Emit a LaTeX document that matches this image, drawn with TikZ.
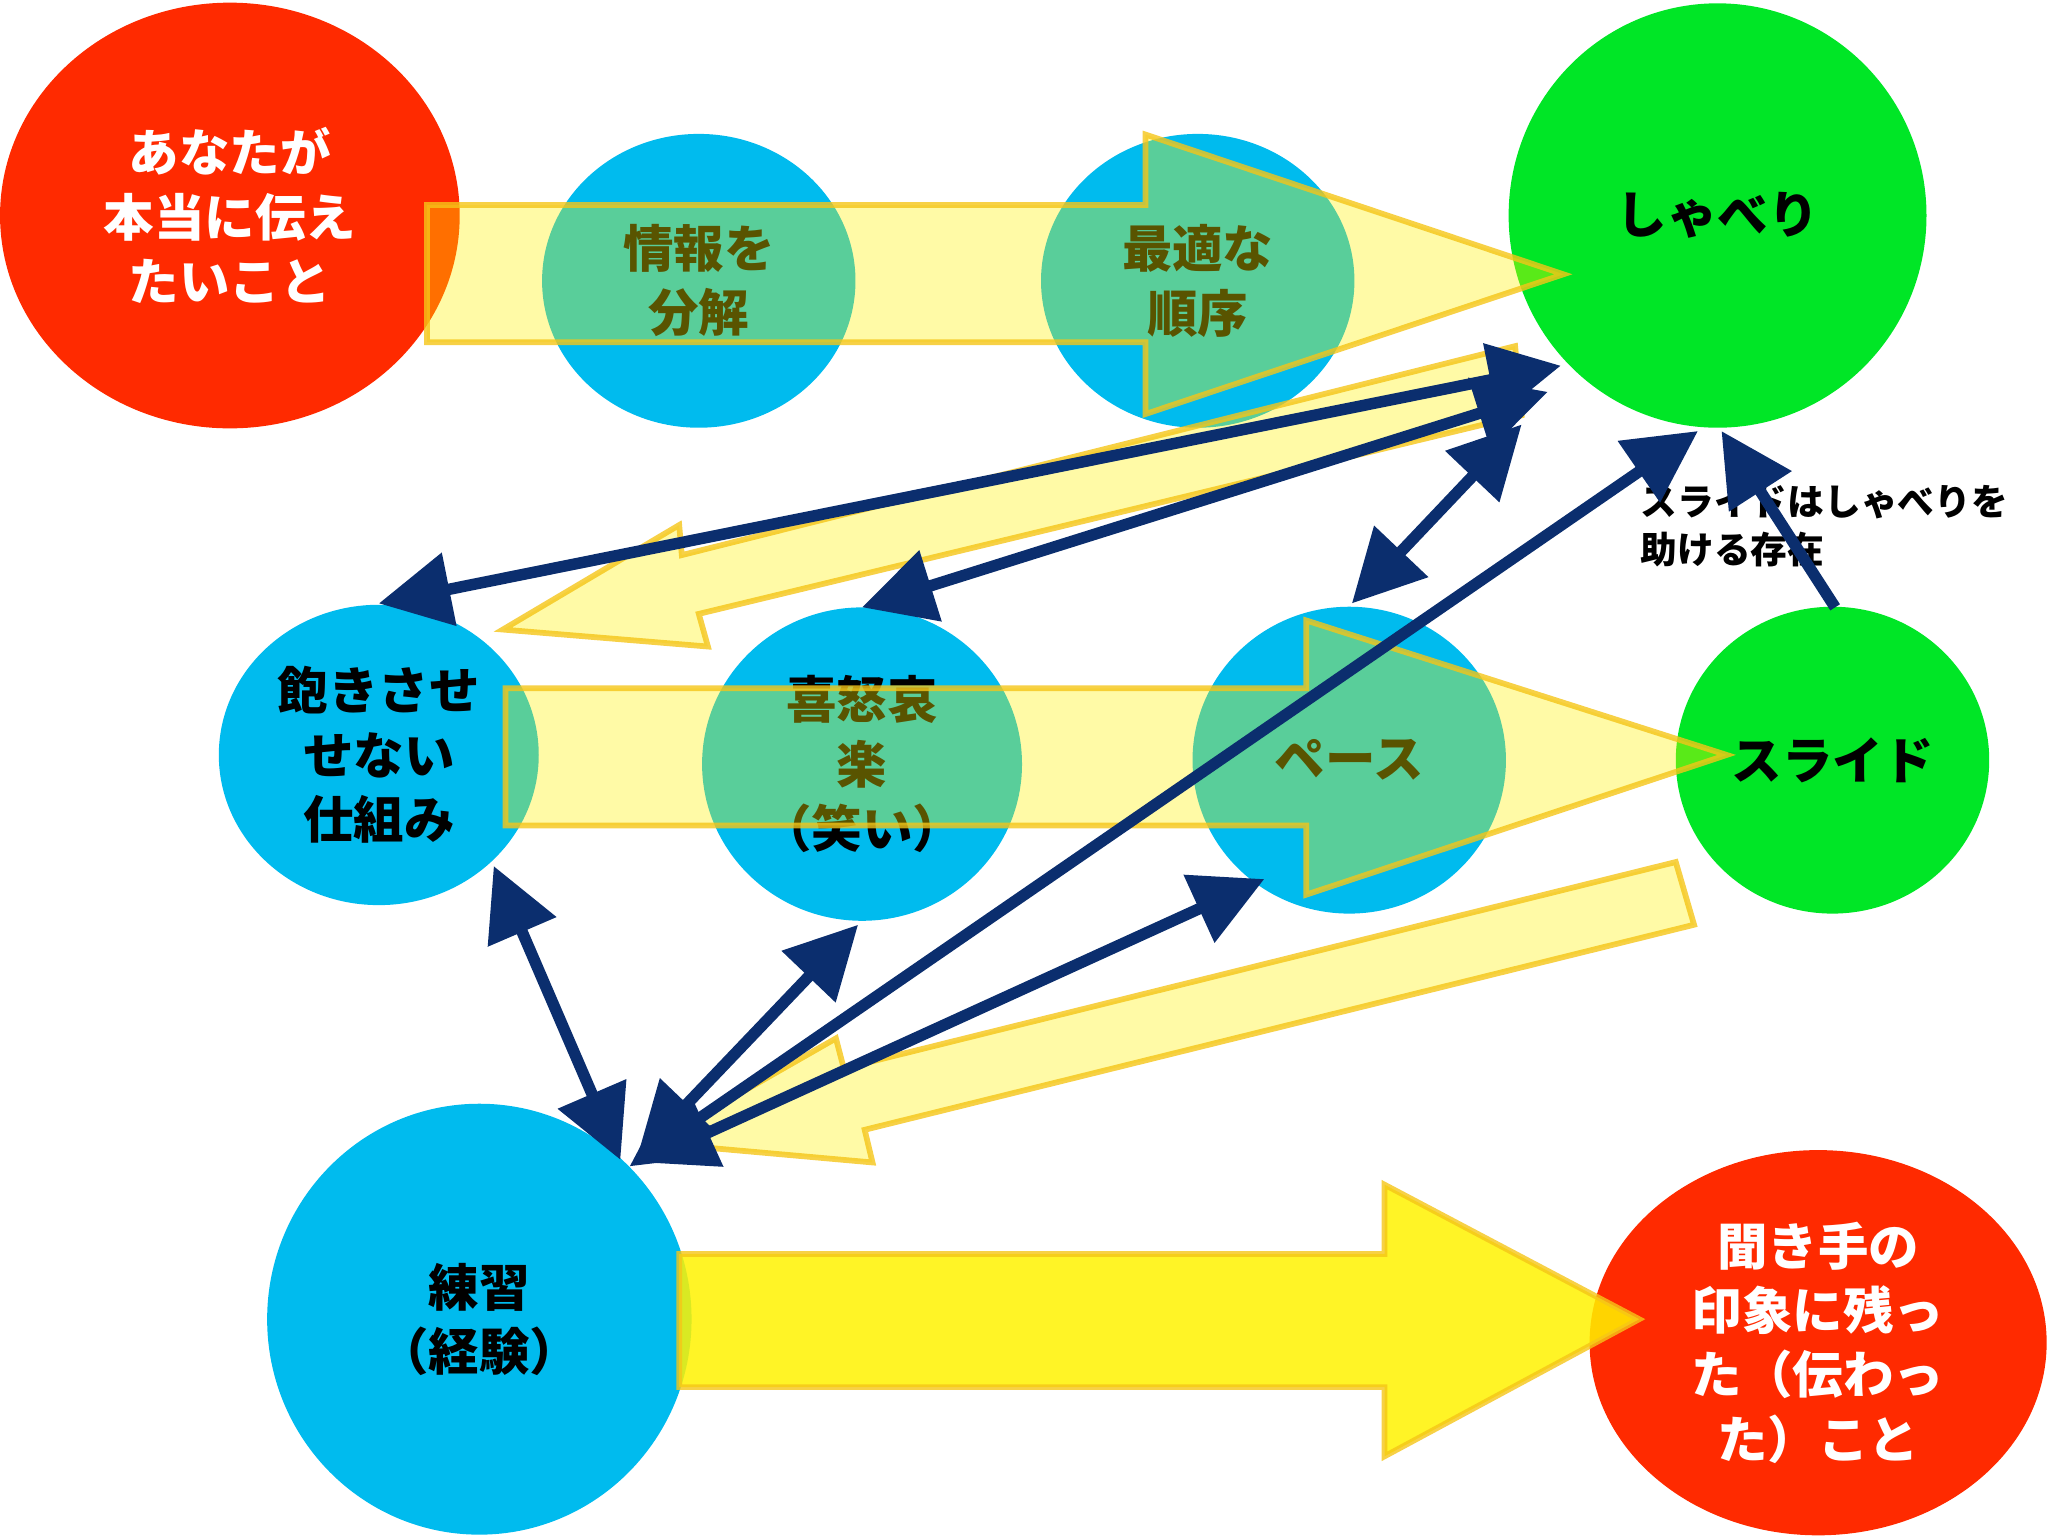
\documentclass[tikz,border=0pt]{standalone}
\usepackage{fontspec}
\setmainfont{Noto Sans CJK JP}
\usetikzlibrary{shapes.geometric,arrows.meta}
\definecolor{cred}{HTML}{FF2A00}
\definecolor{cblue}{HTML}{00BBEE}
\definecolor{cgreen}{HTML}{00E626}
\definecolor{navy}{HTML}{0B2E6E}
\definecolor{yel}{HTML}{FFF200}
\definecolor{yedge}{HTML}{F5C518}
\tikzset{
  circ/.style={ellipse,inner sep=0pt,align=center,font=\fontsize{22}{28}\selectfont\bfseries},
  yarrow/.style={fill=yel,fill opacity=0.35,draw=yedge,line width=2.5pt,draw opacity=0.8},
  barrow/.style={draw=navy,line width=5pt,{Triangle[length=1.1cm,width=1.1cm]}-{Triangle[length=1.1cm,width=1.1cm]}},
  sarrow/.style={draw=navy,line width=5pt,-{Triangle[length=1.1cm,width=1.1cm]}}
}
\begin{document}
\begin{tikzpicture}[x=0.02cm,y=-0.02cm]
\useasboundingbox (0,0) rectangle (1568,1176);
\node[circ,fill=cred,minimum width=352\pgflinewidth*0+7.04cm,minimum height=6.52cm,text=white] (a) at (176,165) {あなたが\\本当に伝え\\たいこと};
\node[circ,fill=cblue,minimum width=4.8cm,minimum height=4.5cm] (b) at (535,215) {情報を\\分解};
\node[circ,fill=cblue,minimum width=4.8cm,minimum height=4.5cm] (c) at (917,215) {最適な\\順序};
\node[circ,fill=cgreen,minimum width=6.4cm,minimum height=6.5cm] (d) at (1315,165) {しゃべり};
\node[circ,fill=cblue,minimum width=4.9cm,minimum height=4.6cm] (e) at (290,578) {飽きさせ\\せない\\仕組み};
\node[circ,fill=cblue,minimum width=4.9cm,minimum height=4.8cm] (f) at (660,585) {喜怒哀\\楽\\（笑い）};
\node[circ,fill=cblue,minimum width=4.8cm,minimum height=4.7cm] (g) at (1033,582) {ペース};
\node[circ,fill=cgreen,minimum width=4.8cm,minimum height=4.7cm] (h) at (1403,582) {スライド};
\node[circ,fill=cblue,minimum width=6.5cm,minimum height=6.6cm] (i) at (367,1010) {練習\\（経験）};
\node[circ,fill=cred,minimum width=7.0cm,minimum height=5.9cm,text=white] (j) at (1392,1028) {聞き手の\\印象に残っ\\た（伝わっ\\た）こと};
\node[align=left,anchor=west,font=\fontsize{16}{21}\selectfont\bfseries] (lbl) at (1250,403) {スライドはしゃべりを\\助ける存在};
% yellow arrows
\draw[yarrow] (327,157)--(877,157)--(877,103)--(1197,210)--(877,317)--(877,262)--(327,262)--cycle;
\draw[yarrow] (1160,265)--(1165,318)--(535,470)--(542,495)--(385,482)--(520,402)--(522,425)--cycle;
\draw[yarrow] (387,527)--(1000,527)--(1000,475)--(1322,578)--(1000,685)--(1000,632)--(387,632)--cycle;
\draw[yarrow] (1283,660)--(1297,708)--(662,865)--(668,890)--(500,875)--(640,795)--(646,818)--cycle;
\draw[yarrow,fill opacity=0.85] (520,960)--(1060,960)--(1060,907)--(1255,1010)--(1060,1115)--(1060,1062)--(520,1062)--cycle;
% blue arrows
\coordinate (d1) at (1195,280); \coordinate (d2) at (1185,300); \coordinate (d3) at (1165,325); \coordinate (d4) at (1300,330); \coordinate (d5) at (1318,330);
\coordinate (e1) at (290,462); \coordinate (f1) at (660,465); \coordinate (g1) at (1035,462); \coordinate (h1) at (1405,465);
\coordinate (i1) at (475,888); \coordinate (i2) at (488,885); \coordinate (i3) at (492,890); \coordinate (i4) at (482,893);
\coordinate (e2) at (378,663); \coordinate (f2) at (657,708); \coordinate (g2) at (968,673);
\draw[barrow] (d1)--(e1);
\draw[barrow] (d2)--(f1);
\draw[barrow] (d3)--(g1);
\draw[barrow] (d4)--(i4);
\draw[sarrow] (h1)--(d5);
\draw[barrow] (i1)--(e2);
\draw[barrow] (i2)--(f2);
\draw[barrow] (i3)--(g2);
\end{tikzpicture}
\end{document}
